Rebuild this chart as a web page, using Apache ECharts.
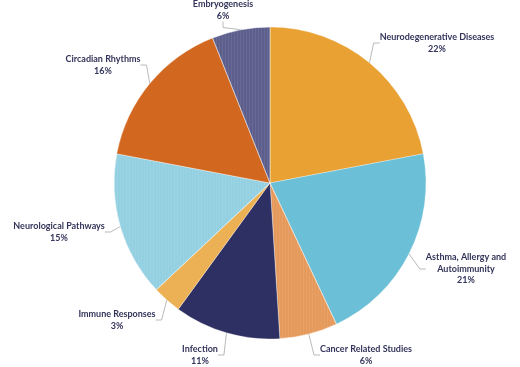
<!DOCTYPE html>
<html>
<head>
<meta charset="utf-8">
<script src="https://cdn.jsdelivr.net/npm/echarts@6/dist/echarts.min.js"></script>
<style>html,body{margin:0;padding:0;background:#fff}#c{width:520px;height:367px}</style>
</head>
<body>
<div id="c"></div>
<script>
var categories = ['Neurodegenerative Diseases', 'Asthma, Allergy and\nAutoimmunity', 'Cancer Related Studies', 'Infection', 'Immune Responses', 'Neurological Pathways', 'Circadian Rhythms', 'Embryogenesis'];
var values = [22, 21, 6, 11, 3, 15, 16, 6];
var colors = ['#E8A132', '#6BBFD6', '#E5995A', '#2E2F62', '#EDB155', '#93D0E1', '#D2671F', '#5C5E8C'];
var textured = [false, false, true, false, false, true, false, true];
// label anchor positions (layout styling)
var labelPos = [[437, 43], [466, 269], [366, 355], [200, 355], [117, 320], [59, 232], [103, 65], [223, 10]];

var data = categories.map(function (name, i) {
  var item = { name: name, value: values[i], itemStyle: { color: colors[i] } };
  if (textured[i]) {
    item.itemStyle.decal = {
      symbol: 'rect', symbolSize: 1, color: 'rgba(255,255,255,0.08)',
      dashArrayX: [1, 2], dashArrayY: [4, 0], rotation: 0
    };
  }
  return item;
});

var chart = echarts.init(document.getElementById('c'));
chart.setOption({
  animation: false,
  series: [{
    type: 'pie',
    center: [270, 183],
    radius: 156,
    startAngle: 90,
    clockwise: true,
    data: data,
    itemStyle: { borderColor: 'rgba(255,255,255,0.6)', borderWidth: 0.5 },
    label: {
      show: true,
      formatter: '{b}\n{c}%',
      color: '#33345A',
      fontFamily: 'Lato',
      fontWeight: 'bold',
      fontSize: 9,
      lineHeight: 11.5,
      align: 'center'
    },
    labelLine: {
      show: true,
      length: 8,
      length2: 6,
      smooth: false,
      lineStyle: { color: '#A8A8A8', width: 0.8 }
    },
    labelLayout: function (params) {
      var p = labelPos[params.dataIndex];
      return { x: p[0], y: p[1], align: 'center', verticalAlign: 'middle' };
    },
    emphasis: { disabled: true }
  }]
});
</script>
</body>
</html>
